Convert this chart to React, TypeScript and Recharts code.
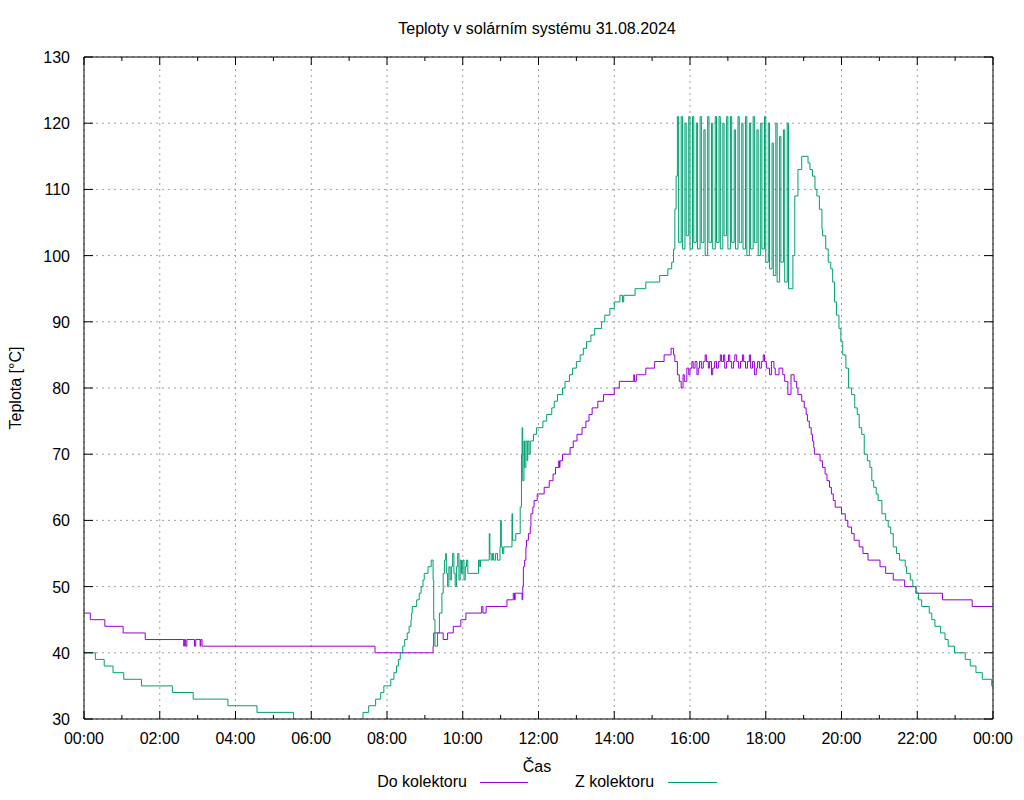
import React from 'react';
import { LineChart, Line, XAxis, YAxis, CartesianGrid } from 'recharts';

// ---------- DATA ----------
const title = 'Teploty v solárním systému 31.08.2024';
const xTitle = 'Čas';
const yTitle = 'Teplota [°C]';
const seriesNames = ['Do kolektoru', 'Z kolektoru'];

const xDomain = [0, 1440];
const yDomain = [30, 130];
const xMajorTicks = [0, 120, 240, 360, 480, 600, 720, 840, 960, 1080, 1200, 1320, 1440];
const xMajorLabels = ['00:00', '02:00', '04:00', '06:00', '08:00', '10:00', '12:00', '14:00', '16:00', '18:00', '20:00', '22:00', '00:00'];
const xMinorTicks = [0, 60, 120, 180, 240, 300, 360, 420, 480, 540, 600, 660, 720, 780, 840, 900, 960, 1020, 1080, 1140, 1200, 1260, 1320, 1380, 1440];
const yTicks = [30, 40, 50, 60, 70, 80, 90, 100, 110, 120, 130];

// Do kolektoru (purple)
const doTimes = [
  '00:00', '00:10', '00:33', '01:02', '01:37', '02:38', '02:39', '02:41', '02:43', '02:55', '02:57', '03:04', '03:05', '03:07',
  '07:41', '09:13', '09:14', '09:29', '09:36', '09:45', '09:57', '10:05', '10:30', '10:32', '10:37', '11:10', '11:20', '11:22',
  '11:23', '11:34', '11:35', '11:36', '11:38', '11:40', '11:41', '11:44', '11:47', '11:48', '11:51', '11:53', '11:58', '12:09',
  '12:17', '12:23', '12:27', '12:32', '12:33', '12:34', '12:38', '12:50', '12:55', '13:01', '13:09', '13:15', '13:20', '13:25',
  '13:34', '13:43', '14:00', '14:08', '14:31', '14:32', '14:35', '14:50', '15:04', '15:19', '15:30', '15:34', '15:36', '15:40',
  '15:43', '15:46', '15:49', '15:51', '15:55', '15:58', '16:00', '16:03', '16:05', '16:08', '16:11', '16:13', '16:15', '16:18',
  '16:21', '16:24', '16:26', '16:29', '16:31', '16:34', '16:36', '16:39', '16:42', '16:45', '16:48', '16:50', '16:53', '16:55',
  '16:58', '17:01', '17:03', '17:06', '17:09', '17:11', '17:14', '17:17', '17:20', '17:23', '17:25', '17:28', '17:31', '17:34',
  '17:36', '17:39', '17:42', '17:45', '17:47', '17:50', '17:53', '17:56', '17:58', '18:01', '18:06', '18:09', '18:13', '18:15',
  '18:21', '18:27', '18:30', '18:35', '18:40', '18:45', '18:49', '18:51', '18:57', '19:01', '19:04', '19:06', '19:09', '19:12',
  '19:14', '19:16', '19:17', '19:26', '19:30', '19:34', '19:37', '19:41', '19:44', '19:47', '19:50', '20:00', '20:06', '20:10',
  '20:16', '20:20', '20:28', '20:34', '20:42', '21:01', '21:10', '21:22', '21:40', '21:58', '22:40', '23:27', '24:00',
];
const doValues = [
  46, 45, 44, 43, 42, 41, 42, 41, 42, 41, 42, 41, 42, 41,
  40, 41, 43, 42, 43, 44, 45, 46, 47, 46, 47, 48, 49, 48,
  49, 48, 50, 53, 54, 56, 57, 58, 59, 61, 62, 63, 64, 65,
  66, 67, 68, 69, 68, 69, 70, 71, 72, 73, 74, 75, 76, 77,
  78, 79, 80, 81, 82, 81, 82, 83, 84, 85, 86, 85, 84, 82,
  81, 80, 82, 81, 83, 82, 83, 84, 83, 84, 82, 83, 84, 83,
  84, 85, 84, 83, 84, 82, 83, 84, 83, 84, 85, 84, 85, 83,
  84, 85, 84, 83, 84, 85, 84, 83, 84, 85, 84, 83, 84, 85,
  83, 84, 82, 83, 84, 83, 84, 85, 84, 83, 82, 84, 83, 82,
  83, 82, 81, 79, 82, 81, 80, 79, 78, 77, 76, 75, 74, 73,
  72, 71, 70, 69, 68, 67, 66, 65, 64, 63, 62, 61, 60, 59,
  58, 57, 56, 55, 54, 53, 52, 51, 50, 49, 48, 47, 47,
];

// Z kolektoru (green)
const zTimes = [
  '00:00', '00:18', '00:32', '00:46', '01:03', '01:31', '02:20', '02:53', '03:48', '04:34', '05:32', '06:20', '07:05', '07:22',
  '07:31', '07:42', '07:50', '07:55', '08:06', '08:11', '08:15', '08:18', '08:21', '08:25', '08:28', '08:32', '08:35', '08:38',
  '08:39', '08:40', '08:47', '08:51', '08:54', '08:57', '08:59', '09:05', '09:10', '09:13', '09:14', '09:16', '09:20', '09:23',
  '09:27', '09:29', '09:31', '09:33', '09:34', '09:36', '09:38', '09:40', '09:42', '09:44', '09:46', '09:48', '09:50', '09:52',
  '09:54', '09:56', '09:58', '10:00', '10:02', '10:04', '10:06', '10:08', '10:11', '10:25', '10:27', '10:28', '10:42', '10:43',
  '10:45', '10:47', '10:49', '10:52', '10:55', '10:59', '11:00', '11:01', '11:03', '11:05', '11:18', '11:19', '11:24', '11:31',
  '11:33', '11:34', '11:35', '11:37', '11:38', '11:40', '11:42', '11:43', '11:45', '11:47', '11:52', '11:57', '12:07', '12:13',
  '12:21', '12:25', '12:30', '12:38', '12:42', '12:49', '12:54', '13:00', '13:06', '13:11', '13:16', '13:23', '13:29', '13:40',
  '13:45', '13:53', '14:00', '14:09', '14:13', '14:15', '14:33', '14:50', '15:12', '15:25', '15:31', '15:34', '15:36', '15:38',
  '15:40', '15:42', '15:46', '15:48', '15:52', '15:54', '15:58', '16:00', '16:04', '16:06', '16:10', '16:12', '16:16', '16:18',
  '16:22', '16:24', '16:28', '16:30', '16:34', '16:36', '16:40', '16:42', '16:46', '16:48', '16:52', '16:54', '16:58', '17:00',
  '17:04', '17:06', '17:10', '17:12', '17:16', '17:18', '17:22', '17:24', '17:28', '17:30', '17:34', '17:36', '17:40', '17:42',
  '17:46', '17:48', '17:52', '17:54', '17:58', '18:00', '18:04', '18:06', '18:10', '18:12', '18:16', '18:18', '18:22', '18:24',
  '18:28', '18:30', '18:34', '18:36',
  '18:43', '18:46', '18:51', '18:57', '19:07', '19:10', '19:14', '19:18', '19:21', '19:25', '19:29', '19:30',
  '19:35', '19:39', '19:43', '19:46', '19:49', '19:52', '19:56', '19:59', '20:02', '20:07', '20:11', '20:16', '20:21', '20:25',
  '20:28', '20:32', '20:36', '20:41', '20:45', '20:48', '20:51', '20:55', '20:58', '21:04', '21:10', '21:14', '21:18', '21:22',
  '21:27', '21:32', '21:41', '21:43', '21:49', '21:53', '21:58', '22:02', '22:07', '22:19', '22:23', '22:28', '22:37', '22:44',
  '22:49', '22:59', '23:16', '23:24', '23:33', '23:43', '23:58', '24:00',
];
const zValues = [
  40, 39, 38, 37, 36, 35, 34, 33, 32, 31, 29, 28, 29, 31,
  32, 33, 34, 35, 36, 37, 38, 39, 40, 41, 42, 43, 44, 45,
  46, 47, 48, 49, 50, 51, 52, 53, 54, 51, 45, 41, 43, 46,
  49, 52, 54, 55, 52, 50, 53, 51, 53, 55, 52, 50, 53, 55,
  51, 54, 52, 54, 51, 53, 54, 52, 52, 54, 53, 54, 58, 55,
  54, 55, 54, 55, 54, 56, 60, 56, 55, 56, 61, 57, 58, 62,
  70, 74, 66, 72, 68, 72, 69, 72, 70, 72, 73, 74, 75, 76,
  77, 78, 79, 80, 81, 82, 83, 84, 85, 86, 87, 88, 89, 90,
  91, 92, 93, 94, 93, 94, 95, 96, 97, 98, 99, 101, 107, 112,
  121, 102, 121, 101, 120, 103, 121, 101, 121, 102, 120, 101, 121, 102,
  119, 100, 121, 102, 120, 101, 121, 102, 121, 101, 120, 103, 121, 101,
  121, 102, 119, 101, 121, 102, 120, 101, 121, 100, 120, 101, 121, 102,
  119, 100, 120, 101, 121, 99, 120, 98, 117, 97, 120, 96, 118, 99,
  119, 96, 120, 95,
  100, 109, 113, 115, 114, 113, 112, 110, 109, 107, 104, 103,
  101, 99, 98, 96, 93, 91, 89, 87, 85, 83, 80, 79, 77, 76,
  74, 73, 70, 69, 68, 66, 65, 64, 63, 61, 60, 59, 58, 56,
  55, 54, 53, 52, 51, 50, 49, 48, 47, 46, 45, 44, 43, 42,
  41, 40, 39, 38, 37, 36, 35, 35,
];

// ---------- helpers ----------
const toMin = (s: string) => {
  const [h, m] = s.split(':').map(Number);
  return h * 60 + m;
};
const doData = doTimes.map((t, i) => ({ t: toMin(t), v: doValues[i] }));
const zData = zTimes.map((t, i) => ({ t: toMin(t), v: zValues[i] }));

const FONT = '"Liberation Sans", Arial, sans-serif';
const PURPLE = '#9400D3';
const GREEN = '#009E73';

const BottomTick = (props: any) => {
  const { x, y, payload } = props;
  const idx = xMajorTicks.indexOf(payload.value);
  const major = idx >= 0;
  return (
    <g>
      <line x1={x} x2={x} y1={y} y2={y - (major ? 8 : 4)} stroke="#000" strokeWidth={1} />
      {major && (
        <text x={x} y={y + 25} textAnchor="middle" fontSize={16} fontFamily={FONT} fill="#000">
          {xMajorLabels[idx]}
        </text>
      )}
    </g>
  );
};

const TopTick = (props: any) => {
  const { x, y, payload } = props;
  const major = xMajorTicks.indexOf(payload.value) >= 0;
  return <line x1={x} x2={x} y1={y} y2={y + (major ? 8 : 4)} stroke="#000" strokeWidth={1} />;
};

const LeftTick = (props: any) => {
  const { x, y, payload } = props;
  return (
    <g>
      <line x1={x} x2={x + 9} y1={y} y2={y} stroke="#000" strokeWidth={1} />
      <text x={x - 14} y={y + 6} textAnchor="end" fontSize={16} fontFamily={FONT} fill="#000">
        {payload.value}
      </text>
    </g>
  );
};

const RightTick = (props: any) => {
  const { x, y } = props;
  return <line x1={x} x2={x - 9} y1={y} y2={y} stroke="#000" strokeWidth={1} />;
};

const gridVertical = (args: any) => {
  const off = args.offset;
  return xMajorTicks.map((v) => off.left + ((v - xDomain[0]) / (xDomain[1] - xDomain[0])) * off.width);
};

export default function App() {
  return (
    <div style={{ position: 'absolute', left: 0, top: 0, width: 1024, height: 800, background: '#fff' }}>
      <LineChart width={1024} height={800} margin={{ top: 56, right: 30, bottom: 80, left: 83 }}>
        <CartesianGrid
          stroke="#a0a0a0"
          strokeDasharray="2 4"
          strokeWidth={1}
          verticalCoordinatesGenerator={gridVertical}
        />
        <XAxis
          dataKey="t"
          type="number"
          domain={xDomain}
          ticks={xMinorTicks}
          interval={0}
          allowDataOverflow
          height={1}
          tickSize={0}
          tickMargin={0}
          tickLine={false}
          axisLine={{ stroke: '#000' }}
          tick={<BottomTick />}
        />
        <XAxis
          xAxisId="top"
          orientation="top"
          dataKey="t"
          type="number"
          domain={xDomain}
          ticks={xMinorTicks}
          interval={0}
          allowDataOverflow
          height={1}
          tickSize={0}
          tickMargin={0}
          tickLine={false}
          axisLine={{ stroke: '#000' }}
          tick={<TopTick />}
        />
        <YAxis
          type="number"
          domain={yDomain}
          ticks={yTicks}
          interval={0}
          allowDataOverflow
          width={1}
          tickSize={0}
          tickMargin={0}
          tickLine={false}
          axisLine={{ stroke: '#000' }}
          tick={<LeftTick />}
        />
        <YAxis
          yAxisId="right"
          orientation="right"
          type="number"
          domain={yDomain}
          ticks={yTicks}
          interval={0}
          allowDataOverflow
          width={1}
          tickSize={0}
          tickMargin={0}
          tickLine={false}
          axisLine={{ stroke: '#000' }}
          tick={<RightTick />}
        />
        <Line
          data={doData}
          dataKey="v"
          name={seriesNames[0]}
          type="stepAfter"
          stroke={PURPLE}
          strokeWidth={1}
          dot={false}
          activeDot={false}
          isAnimationActive={false}
        />
        <Line
          data={zData}
          dataKey="v"
          name={seriesNames[1]}
          type="stepAfter"
          stroke={GREEN}
          strokeWidth={1}
          dot={false}
          activeDot={false}
          isAnimationActive={false}
        />
      </LineChart>
      <svg
        width={1024}
        height={800}
        style={{ position: 'absolute', left: 0, top: 0, pointerEvents: 'none' }}
        fontFamily={FONT}
        fontSize={16}
      >
        <text x={537} y={34} textAnchor="middle" fill="#000">{title}</text>
        <text x={537} y={772} textAnchor="middle" fill="#000">{xTitle}</text>
        <text transform="translate(21,388) rotate(-90)" textAnchor="middle" fill="#000">{yTitle}</text>
        <text x={467} y={787} textAnchor="end" fill="#000">{seriesNames[0]}</text>
        <line x1={480} x2={528} y1={782.5} y2={782.5} stroke={PURPLE} strokeWidth={1} />
        <text x={575} y={787} textAnchor="start" fill="#000">{seriesNames[1]}</text>
        <line x1={668} x2={717} y1={782.5} y2={782.5} stroke={GREEN} strokeWidth={1} />
      </svg>
    </div>
  );
}
